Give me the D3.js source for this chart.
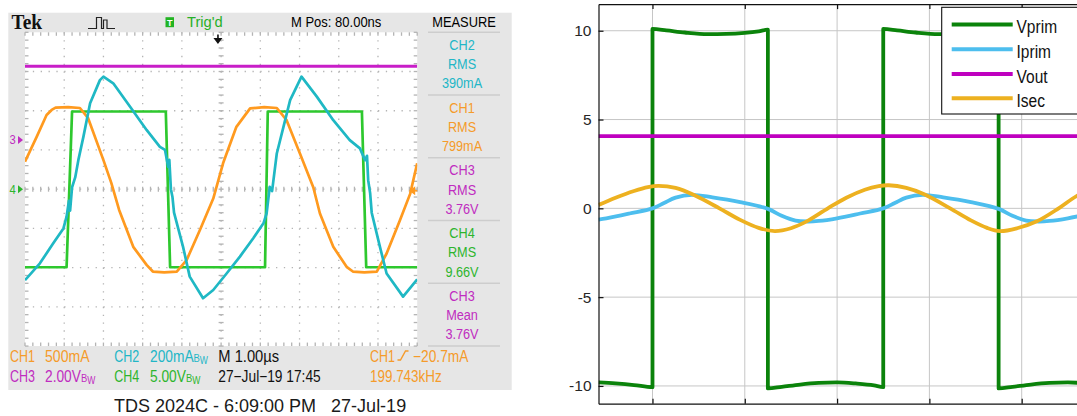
<!DOCTYPE html>
<html><head><meta charset="utf-8">
<script src="https://cdn.jsdelivr.net/npm/d3@7"></script>
<style>html,body{margin:0;padding:0;background:#fff;overflow:hidden}svg{display:block}</style>
</head><body>
<svg id="c" width="1077" height="416"></svg>
<script>
// ================= DATA =================
// --- Oscilloscope capture (TDS 2024C), time in µs from left graticule edge ---
const ch1Isec = [ // CH1, mA (500 mA/div)
  [0.00,350],[0.30,670],[0.55,945],[0.68,1010],[0.78,1040],[1.10,1045],[1.40,1035],
  [1.61,905],[2.00,370],[2.20,80],[2.40,-265],[2.76,-735],[3.10,-965],[3.26,-1050],
  [3.55,-1060],[3.87,-1050],[4.12,-905],[4.46,-520],[4.80,-120],[5.05,330],[5.39,795],
  [5.74,1030],[6.10,1045],[6.42,1035],[6.67,880],[7.01,455],[7.35,25],[7.52,-310],
  [7.86,-735],[8.20,-990],[8.36,-1050],[8.65,-1060],[8.97,-1050],[9.22,-820],
  [9.56,-395],[9.82,-60],[10.00,330]
];
const ch2Iprim = [ // CH2, mA (200 mA/div)
  [0.00,-464],[0.38,-378],[0.72,-276],[0.98,-200],[1.06,-140],[1.12,-60],[1.15,-110],
  [1.20,10],[1.28,60],[1.36,148],[1.49,268],[1.66,438],[1.91,556],[2.00,574],
  [2.25,540],[2.68,420],[3.10,302],[3.44,216],[3.57,200],[3.65,114],[3.68,150],
  [3.72,0],[3.76,-40],[3.80,-120],[4.03,-294],[4.20,-446],[4.54,-556],[4.80,-514],
  [5.14,-430],[5.48,-344],[5.82,-250],[6.08,-174],[6.16,-124],[6.24,12],[6.30,-10],
  [6.42,182],[6.59,318],[6.76,454],[7.05,574],[7.44,472],[7.86,352],[8.28,250],
  [8.54,208],[8.67,148],[8.72,170],[8.75,46],[8.80,-20],[8.84,-120],[9.05,-294],
  [9.22,-430],[9.64,-548],[10.00,-460]
];
const ch3Vout = [[0.00,3.76],[10.00,3.76]]; // CH3, V (2 V/div)
const ch4Vprim = [ // CH4, V (5 V/div)
  [0.00,-9.95],[1.06,-9.95],[1.20,9.9],[3.59,9.9],[3.70,-9.95],[6.12,-9.95],
  [6.19,9.9],[8.59,9.9],[8.70,-9.95],[10.00,-9.95]
];
const measureBlocks = [
  ["CH2","RMS","390mA"],["CH1","RMS","799mA"],["CH3","RMS","3.76V"],
  ["CH4","RMS","9.66V"],["CH3","Mean","3.76V"]
];

// --- Simulation (time in µs) ---
const simYTicks = [-10,-5,0,5,10];
const simXTicks = [2,4,6,8,10];
const seriesNames = ["Vprim","Iprim","Vout","Isec"];
const vprim = [
  [0.83,-9.80],[1.2,-9.86],[1.6,-9.95],[2.0,-10.07],[2.0,10.10],[2.3,10.02],[2.7,9.90],
  [3.2,9.81],[3.6,9.82],[4.0,9.88],[4.3,9.97],[4.5,10.06],[4.5,-10.14],[4.8,-10.05],
  [5.2,-9.92],[5.6,-9.83],[6.0,-9.80],[6.4,-9.86],[6.8,-9.97],[7.0,-10.07],[7.0,10.10],
  [7.3,10.02],[7.7,9.90],[8.2,9.81],[8.6,9.82],[9.0,9.88],[9.3,9.97],[9.5,10.06],
  [9.5,-10.14],[9.8,-10.05],[10.2,-9.92],[10.6,-9.83],[11.0,-9.80],[11.4,-9.86],[11.7,-9.93]
];
const iprim = [
  [0.83,-0.63],[1.0,-0.56],[1.5,-0.29],[2.0,0.0],[2.25,0.30],[2.5,0.60],[2.85,0.76],
  [3.3,0.62],[3.9,0.35],[4.5,-0.03],[4.8,-0.42],[5.1,-0.69],[5.35,-0.74],[5.6,-0.71],
  [6.0,-0.56],[6.5,-0.29],[7.0,0.0],[7.25,0.30],[7.5,0.60],[7.85,0.76],[8.3,0.62],
  [8.9,0.35],[9.5,-0.03],[9.8,-0.42],[10.1,-0.69],[10.35,-0.74],[10.6,-0.71],
  [11.0,-0.56],[11.5,-0.29],[11.7,-0.18]
];
const vout = [[0.83,4.07],[11.7,4.07]];
const isec = [
  [0.83,0.19],[1.2,0.60],[1.6,0.98],[1.9,1.20],[2.13,1.27],[2.5,1.15],[2.9,0.75],
  [3.45,0.0],[3.9,-0.65],[4.3,-1.10],[4.65,-1.28],[5.0,-1.12],[5.33,-0.75],[5.8,0.0],
  [6.2,0.60],[6.6,1.05],[6.9,1.25],[7.12,1.30],[7.5,1.15],[7.9,0.78],[8.45,0.0],
  [8.9,-0.68],[9.25,-1.10],[9.53,-1.28],[9.9,-1.12],[10.33,-0.73],[10.8,0.0],
  [11.19,0.69],[11.5,1.0],[11.7,1.15]
];

// ================= DRAW =================
const svg = d3.select("#c");
svg.append("rect").attr("width",1077).attr("height",416).attr("fill","#fff");
const SANS = "'Liberation Sans', Arial, Helvetica, sans-serif";
const SERIF = "'Liberation Serif', 'DejaVu Serif', serif";

function txt(g, s, x, y, o = {}) {
  return g.append("text")
    .attr("transform", `translate(${x},${y}) scale(${o.sx ?? 0.86},${o.sy ?? 1})`)
    .attr("font-family", o.family || SANS)
    .attr("font-size", o.size || 15)
    .attr("font-weight", o.weight || "normal")
    .attr("fill", o.fill || "#000")
    .attr("text-anchor", o.anchor || "start")
    .text(s);
}

// ---------- Oscilloscope ----------
const C1 = "#ff9a1f", C2 = "#1fb8c4", C3 = "#c81ec8", C4 = "#2ec82e";
const T1 = "#f59b2a", T2 = "#22b6c6", T3 = "#c02cc0", T4 = "#2db52d";
const sc = svg.append("g");
sc.append("rect").attr("x",8.3).attr("y",12.7).attr("width",503.4).attr("height",377.3).attr("fill","#e6e6e6");

const DIV = 39.22, gx0 = 25, gy0 = 32.3, gx1 = gx0 + 10*DIV, gy1 = gy0 + 8*DIV;
const gxc = gx0 + 5*DIV, gyc = gy0 + 4*DIV, MINOR = DIV/5;
sc.append("rect").attr("x",gx0).attr("y",gy0).attr("width",gx1-gx0).attr("height",gy1-gy0).attr("fill","#fff");

const grid = sc.append("g").attr("stroke","#b4b4b4").attr("stroke-width",1.3);
for (let i = 1; i < 10; i++) {
  grid.append("line").attr("x1",gx0+i*DIV).attr("x2",gx0+i*DIV).attr("y1",gy0).attr("y2",gy1)
    .attr("stroke-dasharray",`1.3,${MINOR-1.3}`);
}
for (let j = 1; j < 8; j++) {
  grid.append("line").attr("y1",gy0+j*DIV).attr("y2",gy0+j*DIV).attr("x1",gx0).attr("x2",gx1)
    .attr("stroke-dasharray",`1.3,${MINOR-1.3}`);
}
for (let k = 0; k <= 50; k++) {
  const xx = gx0 + k*MINOR;
  grid.append("line").attr("x1",xx).attr("x2",xx).attr("y1",gyc-2.5).attr("y2",gyc+2.5);
  grid.append("line").attr("x1",xx).attr("x2",xx).attr("y1",gy0).attr("y2",gy0+3.5);
  grid.append("line").attr("x1",xx).attr("x2",xx).attr("y1",gy1-3.5).attr("y2",gy1);
}
for (let k = 0; k <= 40; k++) {
  const yy = gy0 + k*MINOR;
  grid.append("line").attr("y1",yy).attr("y2",yy).attr("x1",gxc-2.5).attr("x2",gxc+2.5);
  grid.append("line").attr("y1",yy).attr("y2",yy).attr("x1",gx0).attr("x2",gx0+3.5);
  grid.append("line").attr("y1",yy).attr("y2",yy).attr("x1",gx1-3.5).attr("x2",gx1);
}

const sx = d3.scaleLinear([0,10],[gx0,gx1]);
const chY = (perDiv, offsetDiv) => v => gyc - (offsetDiv + v/perDiv)*DIV;
const y1s = chY(500,0), y2s = chY(200,0), y3s = chY(2,1.254), y4s = chY(5,0);
sc.append("clipPath").attr("id","gclip").append("rect")
  .attr("x",gx0).attr("y",gy0).attr("width",gx1-gx0).attr("height",gy1-gy0);
const traces = sc.append("g").attr("clip-path","url(#gclip)").attr("fill","none")
  .attr("stroke-width",2.7).attr("stroke-linejoin","round");
const drawTrace = (data, ys, col) => traces.append("path").datum(data)
  .attr("d", d3.line().x(d=>sx(d[0])).y(d=>ys(d[1]))).attr("stroke",col);
drawTrace(ch3Vout, y3s, C3).attr("stroke-width",3.2);
drawTrace(ch4Vprim, y4s, C4);
drawTrace(ch1Isec, y1s, C1);
drawTrace(ch2Iprim, y2s, C2);

// channel ground markers
sc.append("path").attr("d",`M${sx(0)-7},${y3s(0)-4} L${sx(0)-2},${y3s(0)} L${sx(0)-7},${y3s(0)+4}Z`).attr("fill",T3);
txt(sc,"3",9.5,y3s(0)+4.5,{size:12.5,fill:T3,sx:0.9});
sc.append("path").attr("d",`M${sx(0)-7},${y4s(0)-4} L${sx(0)-2},${y4s(0)} L${sx(0)-7},${y4s(0)+4}Z`).attr("fill",T4);
txt(sc,"4",9.5,y4s(0)+4.5,{size:12.5,fill:T4,sx:0.9});
// trigger level (CH1 -20.7mA) on right
const tl = y1s(-20.7);
sc.append("path").attr("d",`M${gx1-8},${tl} L${gx1-2},${tl-4.5} L${gx1-2},${tl+4.5}Z`).attr("fill",C1);
sc.append("line").attr("x1",gx1-4).attr("x2",gx1).attr("y1",tl).attr("y2",tl).attr("stroke",C1).attr("stroke-width",1.5);
// trigger position arrow (M Pos 80 ns)
const tp = gxc - 0.08*DIV;
sc.append("path").attr("d",`M${tp-4.5},38 L${tp+4.5},38 L${tp},44 Z`).attr("fill","#111");
sc.append("line").attr("x1",tp).attr("x2",tp).attr("y1",34.5).attr("y2",39).attr("stroke","#111").attr("stroke-width",1.6);

// header
txt(sc,"Tek",11.5,29.3,{family:SERIF,weight:"bold",size:20,sx:0.97,fill:"#111"});
sc.append("path").attr("d","M88,28.5 H96.5 V17.5 H101.5 V28.5 H103.5 V20 H107 V28.5 H115")
  .attr("fill","none").attr("stroke","#222").attr("stroke-width",1.2);
sc.append("rect").attr("x",165.5).attr("y",17.2).attr("width",8.5).attr("height",10).attr("fill","#22b422");
txt(sc,"T",169.75,25.8,{size:9,weight:"bold",fill:"#fff",anchor:"middle",sx:1});
txt(sc,"Trig'd",187,27.3,{size:15.5,fill:"#26b026",sx:0.95});
txt(sc,"M Pos: 80.00ns",291,27,{size:15.5,sx:0.84});
txt(sc,"MEASURE",464,26.7,{size:15.5,anchor:"middle",sx:0.83});

// measure panel
const mCols = [T2,T1,T3,T4,T3];
const blockH = (gy1-gy0)/5;
for (let b = 0; b <= 5; b++) {
  sc.append("line").attr("x1",428).attr("x2",500).attr("y1",gy0+b*blockH).attr("y2",gy0+b*blockH)
    .attr("stroke","#cdcdcd").attr("stroke-width",1.6);
}
measureBlocks.forEach((blk,b) => {
  blk.forEach((s,l) => txt(sc,s,462,gy0+b*blockH+17.5+l*19.3,{size:15.5,anchor:"middle",fill:mCols[b],sx:0.82}));
});

// bottom status rows
function bwText(s, x, y, col) {
  const t = sc.append("text").attr("transform",`translate(${x},${y}) scale(0.86,1)`)
    .attr("font-family",SANS).attr("font-size",16).attr("fill",col);
  t.append("tspan").text(s);
  t.append("tspan").attr("font-size",11).text("B");
  t.append("tspan").attr("font-size",10).attr("dy",2.5).text("W");
}
const r1 = 361.7, r2 = 381.5;
txt(sc,"CH1",10,r1,{size:16,fill:T1,sx:0.78});
txt(sc,"500mA",45,r1,{size:16,fill:T1,sx:0.88});
txt(sc,"CH2",114.3,r1,{size:16,fill:T2,sx:0.78});
bwText("200mA",150,r1,T2);
txt(sc,"M 1.00\u00b5s",218.3,r1,{size:16,fill:"#111",sx:0.92});
txt(sc,"CH1",370,r1,{size:16,fill:T1,sx:0.78});
sc.append("path").attr("d","M397.5,360 H400.5 L405.5,351 H408.5").attr("fill","none").attr("stroke",T1).attr("stroke-width",1.4);
txt(sc,"\u221220.7mA",413,r1,{size:16,fill:T1,sx:0.86});
txt(sc,"CH3",10,r2,{size:16,fill:T3,sx:0.78});
bwText("2.00V",45,r2,T3);
txt(sc,"CH4",114.3,r2,{size:16,fill:T4,sx:0.78});
bwText("5.00V",150,r2,T4);
txt(sc,"27\u2212Jul\u221219 17:45",218.3,r2,{size:16,fill:"#111",sx:0.86});
txt(sc,"199.743kHz",370,r2,{size:16,fill:T1,sx:0.84});

// caption
txt(svg,"TDS 2024C - 6:09:00 PM   27-Jul-19",114,412,{size:18,fill:"#1a1a1a",sx:1}).style("white-space","pre");

// ---------- Simulation plot ----------
const L = 598.5, PXUS = 46.15;
const x = d3.scaleLinear([0.83, 11.7], [L, L + (11.7-0.83)*PXUS]);
const y = d3.scaleLinear([-11, 11.5], [403.7, 4.1]);
const pg = svg.append("g");
const gridG = pg.append("g").attr("stroke","#c6c6c6").attr("stroke-width",1);
simXTicks.forEach(t => gridG.append("line").attr("x1",x(t)).attr("x2",x(t)).attr("y1",y(11.5)).attr("y2",y(-11)));
simYTicks.forEach(v => gridG.append("line").attr("y1",y(v)).attr("y2",y(v)).attr("x1",L).attr("x2",1100));

pg.append("clipPath").attr("id","pclip").append("rect").attr("x",L).attr("y",y(11.5)).attr("width",600).attr("height",y(-11)-y(11.5));
const lines = pg.append("g").attr("clip-path","url(#pclip)").attr("fill","none").attr("stroke-width",3.8)
  .attr("stroke-linejoin","round");
const COL = {Vprim:"#0b830b", Iprim:"#4dbeee", Vout:"#bf00bf", Isec:"#edb120"};
lines.append("path").datum(vprim).attr("stroke",COL.Vprim)
  .attr("d", d3.line().x(d=>x(d[0])).y(d=>y(d[1])).curve(d3.curveMonotoneX));
lines.append("path").datum(iprim).attr("stroke",COL.Iprim)
  .attr("d", d3.line().x(d=>x(d[0])).y(d=>y(d[1])).curve(d3.curveCatmullRom));
lines.append("path").datum(vout).attr("stroke",COL.Vout)
  .attr("d", d3.line().x(d=>x(d[0])).y(d=>y(d[1])));
lines.append("path").datum(isec).attr("stroke",COL.Isec)
  .attr("d", d3.line().x(d=>x(d[0])).y(d=>y(d[1])).curve(d3.curveCatmullRom));

// axes
const ax = pg.append("g");
const yAxis = d3.axisLeft(y).tickValues(simYTicks).tickSizeInner(-5).tickSizeOuter(0).tickPadding(7);
const ya = ax.append("g").attr("transform",`translate(${L},0)`).call(yAxis);
ya.selectAll("text").attr("font-family",SANS).attr("font-size",15.5).attr("fill","#262626")
  .text(d => d < 0 ? "-" + Math.abs(d) : String(d));
ax.append("g").attr("transform",`translate(0,${y(-11)})`)
  .call(d3.axisBottom(x).tickValues(simXTicks).tickSizeInner(-5).tickSizeOuter(0).tickFormat(""));
ax.append("g").attr("transform",`translate(0,${y(11.5)})`)
  .call(d3.axisTop(x).tickValues(simXTicks).tickSizeInner(-5).tickSizeOuter(0).tickFormat(""));
ax.selectAll(".domain").attr("stroke","#111").attr("stroke-width",1.2);
ax.selectAll(".tick line").attr("stroke","#111").attr("stroke-width",1.2);

// legend
const lg = pg.append("g");
lg.append("rect").attr("x",941.7).attr("y",7.3).attr("width",160).attr("height",106.7)
  .attr("fill","#fff").attr("stroke","#111").attr("stroke-width",1.1);
const rowsY = [24.5,49.3,74,98.3];
seriesNames.forEach((n,i) => {
  lg.append("line").attr("x1",951.7).attr("x2",1012.7).attr("y1",rowsY[i]).attr("y2",rowsY[i])
    .attr("stroke",COL[n]).attr("stroke-width",4);
  txt(lg,n,1016.5,rowsY[i]+8.8,{size:18.5,sx:0.84,fill:"#111"});
});
</script>
</body></html>
